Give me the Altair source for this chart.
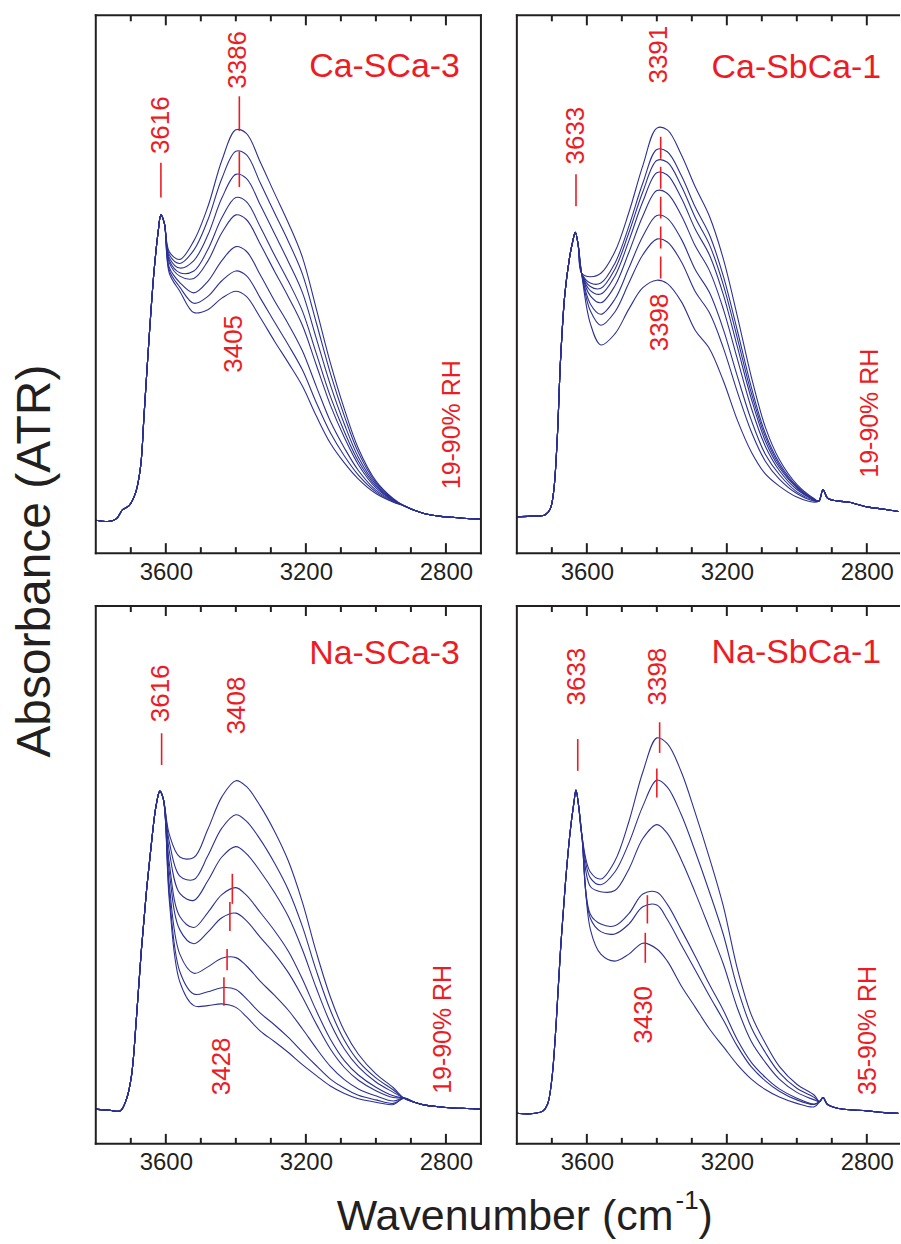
import altair as alt
import pandas as pd

FONT = "Liberation Sans"
BLUE = "#2b3192"
RED = "#ed1c24"
INK = "#231f20"

W_L, W_R, H = 386, 383, 539
DOM_L = [2700, 3800]
DOM_R = [2708, 3800]
Y_DOM = [0.07, 1.0]

# axis ticks (every 100 cm-1, long ones at the labelled values)
TICK_WN = [3700, 3600, 3500, 3400, 3300, 3200, 3100, 3000, 2900, 2800]
TICK_MAJOR = [0, 1, 0, 0, 0, 1, 0, 0, 0, 1]
TICK_LABELS = [3600, 3200, 2800]

# wavenumbers of the part where the spectra differ
MID_WN = [3590, 3560, 3520, 3480, 3440, 3400, 3370, 3330, 3290, 3250,
          3210, 3170, 3130, 3090, 3050, 3000, 2950]

# ---------------- Ca-SCa-3 ----------------
A_HEAD_WN = [3800, 3760, 3740, 3724, 3705, 3686, 3672, 3662, 3648, 3634, 3622, 3614, 3604]
A_HEAD_AB = [0.127, 0.125, 0.130, 0.145, 0.152, 0.175, 0.220, 0.310, 0.440, 0.555, 0.625, 0.655, 0.640]
A_C1 = [0.591, 0.578, 0.610, 0.669, 0.749, 0.802, 0.796, 0.746, 0.693, 0.641, 0.582, 0.492, 0.399, 0.319, 0.251, 0.195, 0.164]
A_C2 = [0.586, 0.571, 0.594, 0.646, 0.718, 0.765, 0.759, 0.710, 0.659, 0.609, 0.553, 0.468, 0.381, 0.307, 0.244, 0.192, 0.163]
A_C3 = [0.581, 0.563, 0.576, 0.620, 0.684, 0.725, 0.718, 0.672, 0.623, 0.574, 0.521, 0.441, 0.361, 0.293, 0.236, 0.189, 0.162]
A_C4 = [0.576, 0.555, 0.558, 0.595, 0.650, 0.685, 0.678, 0.634, 0.586, 0.540, 0.489, 0.415, 0.341, 0.280, 0.229, 0.186, 0.161]
A_C5 = [0.572, 0.549, 0.545, 0.575, 0.624, 0.655, 0.647, 0.604, 0.558, 0.513, 0.464, 0.395, 0.326, 0.270, 0.223, 0.183, 0.161]
A_C6 = [0.564, 0.538, 0.520, 0.540, 0.576, 0.600, 0.592, 0.551, 0.507, 0.466, 0.420, 0.358, 0.298, 0.252, 0.213, 0.179, 0.160]
A_C7 = [0.559, 0.530, 0.502, 0.514, 0.541, 0.558, 0.550, 0.511, 0.470, 0.430, 0.387, 0.330, 0.278, 0.238, 0.205, 0.176, 0.159]
A_C8 = [0.554, 0.523, 0.486, 0.491, 0.511, 0.523, 0.514, 0.477, 0.437, 0.399, 0.359, 0.307, 0.260, 0.226, 0.198, 0.173, 0.158]
A_TAIL_WN = [2920, 2890, 2860, 2820, 2780, 2740, 2700]
A_TAIL_AB = [0.152, 0.144, 0.138, 0.134, 0.132, 0.130, 0.129]

# ---------------- Ca-SbCa-1 ----------------
B_HEAD_WN = [3800, 3760, 3720, 3705, 3695, 3685, 3675, 3663, 3650, 3640, 3633, 3625, 3615]
B_HEAD_AB = [0.133, 0.134, 0.136, 0.146, 0.176, 0.263, 0.406, 0.517, 0.579, 0.610, 0.625, 0.604, 0.554]
B_C1 = [0.548, 0.554, 0.591, 0.659, 0.740, 0.805, 0.802, 0.759, 0.703, 0.653, 0.579, 0.480, 0.375, 0.288, 0.232, 0.189, 0.164]
B_C2 = [0.537, 0.537, 0.571, 0.635, 0.710, 0.768, 0.764, 0.723, 0.668, 0.621, 0.549, 0.455, 0.357, 0.277, 0.226, 0.186, 0.163]
B_C3 = [0.531, 0.528, 0.561, 0.624, 0.695, 0.749, 0.746, 0.705, 0.650, 0.604, 0.534, 0.442, 0.347, 0.271, 0.222, 0.184, 0.163]
B_C4 = [0.524, 0.518, 0.549, 0.610, 0.678, 0.728, 0.724, 0.684, 0.630, 0.586, 0.517, 0.427, 0.337, 0.264, 0.218, 0.183, 0.162]
B_C5 = [0.515, 0.503, 0.532, 0.590, 0.653, 0.697, 0.692, 0.654, 0.601, 0.559, 0.492, 0.406, 0.321, 0.255, 0.213, 0.180, 0.162]
B_C6 = [0.501, 0.483, 0.509, 0.563, 0.618, 0.654, 0.649, 0.613, 0.560, 0.521, 0.457, 0.376, 0.300, 0.241, 0.206, 0.176, 0.161]
B_C7 = [0.489, 0.464, 0.487, 0.537, 0.586, 0.613, 0.608, 0.574, 0.522, 0.486, 0.425, 0.349, 0.280, 0.229, 0.198, 0.173, 0.160]
B_C8 = [0.467, 0.430, 0.449, 0.492, 0.529, 0.542, 0.536, 0.505, 0.455, 0.424, 0.368, 0.300, 0.245, 0.207, 0.186, 0.167, 0.158]
B_TAIL_WN = [2937, 2925, 2912, 2880, 2850, 2800, 2750, 2710]
B_TAIL_AB = [0.160, 0.180, 0.165, 0.160, 0.158, 0.150, 0.146, 0.142]

# ---------------- Na-SCa-3 ----------------
C_HEAD_WN = [3800, 3760, 3730, 3712, 3698, 3684, 3670, 3655, 3640, 3628, 3617, 3607]
C_HEAD_AB = [0.130, 0.128, 0.127, 0.148, 0.188, 0.287, 0.404, 0.509, 0.596, 0.654, 0.680, 0.666]
C_C1 = [0.605, 0.566, 0.565, 0.614, 0.670, 0.698, 0.688, 0.654, 0.611, 0.559, 0.488, 0.401, 0.324, 0.265, 0.225, 0.191, 0.167]
C_C2 = [0.592, 0.533, 0.527, 0.568, 0.616, 0.639, 0.628, 0.596, 0.556, 0.509, 0.446, 0.369, 0.301, 0.249, 0.213, 0.184, 0.163]
C_C3 = [0.576, 0.503, 0.491, 0.525, 0.566, 0.584, 0.572, 0.541, 0.505, 0.463, 0.406, 0.339, 0.279, 0.234, 0.203, 0.177, 0.159]
C_C4 = [0.555, 0.463, 0.444, 0.470, 0.501, 0.513, 0.500, 0.470, 0.439, 0.403, 0.355, 0.300, 0.251, 0.214, 0.189, 0.168, 0.153]
C_C5 = [0.540, 0.440, 0.416, 0.436, 0.461, 0.469, 0.456, 0.427, 0.399, 0.366, 0.324, 0.277, 0.234, 0.202, 0.180, 0.162, 0.150]
C_C6 = [0.518, 0.398, 0.365, 0.376, 0.391, 0.392, 0.378, 0.351, 0.327, 0.301, 0.269, 0.235, 0.204, 0.181, 0.165, 0.153, 0.144]
C_C7 = [0.502, 0.368, 0.329, 0.333, 0.340, 0.337, 0.321, 0.296, 0.276, 0.254, 0.229, 0.205, 0.182, 0.166, 0.154, 0.146, 0.140]
C_C8 = [0.491, 0.350, 0.309, 0.309, 0.312, 0.306, 0.290, 0.265, 0.247, 0.228, 0.207, 0.188, 0.170, 0.157, 0.148, 0.142, 0.138]
C_TAIL_WN = [2920, 2890, 2860, 2820, 2780, 2740, 2700]
C_TAIL_AB = [0.149, 0.142, 0.137, 0.134, 0.132, 0.131, 0.130]

# ---------------- Na-SbCa-1 ----------------
D_HEAD_WN = [3800, 3760, 3725, 3712, 3700, 3688, 3676, 3662, 3648, 3637, 3631, 3624, 3614]
D_HEAD_AB = [0.123, 0.122, 0.127, 0.139, 0.182, 0.275, 0.398, 0.515, 0.608, 0.660, 0.682, 0.657, 0.602]
D_C1 = [0.540, 0.528, 0.559, 0.627, 0.713, 0.772, 0.762, 0.713, 0.642, 0.565, 0.481, 0.373, 0.293, 0.244, 0.204, 0.173, 0.154]
D_C2 = [0.530, 0.518, 0.540, 0.590, 0.654, 0.699, 0.687, 0.639, 0.575, 0.506, 0.432, 0.340, 0.271, 0.228, 0.193, 0.166, 0.150]
D_C3 = [0.515, 0.506, 0.508, 0.545, 0.598, 0.622, 0.607, 0.561, 0.504, 0.443, 0.381, 0.305, 0.247, 0.211, 0.182, 0.159, 0.146]
D_C4 = [0.467, 0.450, 0.447, 0.468, 0.502, 0.505, 0.484, 0.440, 0.394, 0.346, 0.301, 0.250, 0.211, 0.185, 0.165, 0.149, 0.139]
D_C5 = [0.460, 0.437, 0.433, 0.450, 0.480, 0.483, 0.458, 0.414, 0.370, 0.326, 0.284, 0.239, 0.203, 0.179, 0.161, 0.146, 0.138]
D_C6 = [0.441, 0.398, 0.386, 0.398, 0.417, 0.407, 0.386, 0.343, 0.306, 0.269, 0.238, 0.207, 0.182, 0.164, 0.151, 0.140, 0.134]
D_TAIL_WN = [2935, 2925, 2912, 2880, 2850, 2800, 2750, 2710]
D_TAIL_AB = [0.143, 0.150, 0.138, 0.131, 0.129, 0.127, 0.124, 0.123]

# ---------------- red annotations ----------------
A_NUM = (["3616", "3386", "3405"], [3615, 3394, 3406], [0.810, 0.923, 0.432])
B_NUM = (["3633", "3391", "3398"], [3630, 3393, 3392], [0.792, 0.932, 0.469])
C_NUM = (["3616", "3408", "3428"], [3615, 3396, 3439], [0.849, 0.828, 0.204])
D_NUM = (["3633", "3398", "3430"], [3628, 3397, 3436], [0.878, 0.878, 0.293])
A_RH = ("19-90% RH", 2783, 0.292)
B_RH = ("19-90% RH", 2792, 0.312)
C_RH = ("19-90% RH", 2807, 0.268)
D_RH = ("35-90% RH", 2797, 0.266)
A_NAME = ("Ca-SCa-3", 2760, 0.894)
B_NAME = ("Ca-SbCa-1", 2759, 0.892)
C_NAME = ("Na-SCa-3", 2760, 0.899)
D_NAME = ("Na-SbCa-1", 2759, 0.901)
# peak marker segments: wavenumber, top, bottom
A_SEG = ([3614, 3390, 3390], [0.745, 0.860, 0.765], [0.685, 0.800, 0.703])
B_SEG = ([3631], [0.725], [0.670])
B_DASH = ([3389], [0.790], [0.540])
C_SEG = ([3612, 3410, 3417, 3425, 3434], [0.780, 0.537, 0.488, 0.407, 0.358], [0.725, 0.485, 0.438, 0.370, 0.309])
D_SEG = ([3626, 3392, 3400, 3427, 3433], [0.770, 0.799, 0.719, 0.500, 0.435], [0.715, 0.746, 0.669, 0.451, 0.383])


def panel(head_wn, head_ab, curves, tail_wn, tail_ab, num, rh, name, seg,
          width, dom, right_border, dash=None, extra=()):
    rows = []
    for k, ys in enumerate(curves):
        seq = list(zip(head_wn, head_ab)) + list(zip(MID_WN, ys)) + list(zip(tail_wn, tail_ab))
        for i, (w, a) in enumerate(seq):
            rows.append({"curve": k, "i": i, "wn": w, "ab": a})
    df = pd.DataFrame(rows)
    xs = alt.Scale(domain=dom, reverse=True, nice=False, zero=False)
    ysc = alt.Scale(domain=Y_DOM, nice=False, zero=False)
    ax = alt.Axis(values=TICK_LABELS, ticks=False, tickSize=0, domain=False, grid=False,
                  labelFont=FONT, labelFontSize=24, labelColor=INK, labelPadding=7,
                  title=None, format="d")

    def X(field):
        return alt.X(field, scale=xs, axis=ax)

    def Y(field):
        return alt.Y(field, scale=ysc, axis=None)

    lines = alt.Chart(df).mark_line(
        color=BLUE, strokeWidth=1.1, interpolate="catmull-rom", clip=True
    ).encode(x=X("wn:Q"), y=Y("ab:Q"), detail="curve:N", order="i:Q")

    tdf = pd.DataFrame({"t": TICK_WN, "major": TICK_MAJOR})
    tb = alt.Chart(tdf).encode(x=X("t:Q"))
    tick_layers = [
        tb.transform_filter("datum.major == 1").mark_rule(color=INK, strokeWidth=2).encode(y=alt.value(0), y2=alt.value(10)),
        tb.transform_filter("datum.major == 0").mark_rule(color=INK, strokeWidth=2).encode(y=alt.value(0), y2=alt.value(6)),
        tb.transform_filter("datum.major == 1").mark_rule(color=INK, strokeWidth=2).encode(y=alt.value(H), y2=alt.value(H - 10)),
        tb.transform_filter("datum.major == 0").mark_rule(color=INK, strokeWidth=2).encode(y=alt.value(H), y2=alt.value(H - 6)),
    ]

    one = alt.Chart(pd.DataFrame({"k": [0]}))
    frame = [
        one.mark_rule(color=INK, strokeWidth=2, strokeCap="square").encode(x=alt.value(0), y=alt.value(0), y2=alt.value(H)),
        one.mark_rule(color=INK, strokeWidth=2, strokeCap="square").encode(x=alt.value(0), x2=alt.value(width), y=alt.value(0)),
        one.mark_rule(color=INK, strokeWidth=2, strokeCap="square").encode(x=alt.value(0), x2=alt.value(width), y=alt.value(H)),
    ]
    if right_border:
        frame.append(one.mark_rule(color=INK, strokeWidth=2, strokeCap="square").encode(
            x=alt.value(width), y=alt.value(0), y2=alt.value(H)))

    sdf = pd.DataFrame({"wn": seg[0], "y1": seg[1], "y2": seg[2]})
    ann = [alt.Chart(sdf).mark_rule(color=RED, strokeWidth=1.6).encode(
        x=X("wn:Q"), y=Y("y1:Q"), y2="y2:Q")]
    if dash is not None:
        ddf = pd.DataFrame({"wn": dash[0], "y1": dash[1], "y2": dash[2]})
        ann.append(alt.Chart(ddf).mark_rule(color=RED, strokeWidth=1.6, strokeDash=[22, 8]).encode(
            x=X("wn:Q"), y=Y("y1:Q"), y2="y2:Q"))

    ndf = pd.DataFrame({"label": num[0], "wn": num[1], "ab": num[2]})
    ann.append(alt.Chart(ndf).mark_text(
        angle=270, font=FONT, fontSize=26, color=RED, align="center", baseline="middle"
    ).encode(x=X("wn:Q"), y=Y("ab:Q"), text="label:N"))

    rdf = pd.DataFrame({"label": [rh[0]], "wn": [rh[1]], "ab": [rh[2]]})
    ann.append(alt.Chart(rdf).mark_text(
        angle=270, font=FONT, fontSize=25, color=RED, align="center", baseline="middle"
    ).encode(x=X("wn:Q"), y=Y("ab:Q"), text="label:N"))

    mdf = pd.DataFrame({"label": [name[0]], "wn": [name[1]], "ab": [name[2]]})
    ann.append(alt.Chart(mdf).mark_text(
        font=FONT, fontSize=34, color=RED, align="right", baseline="alphabetic"
    ).encode(x=X("wn:Q"), y=Y("ab:Q"), text="label:N"))

    return alt.layer(lines, *tick_layers, *frame, *ann, *extra).properties(width=width, height=H)


one_row = pd.DataFrame({"k": [0]})
y_title = alt.Chart(one_row).mark_text(
    text="Absorbance (ATR)", angle=270, font=FONT, fontSize=48, color=INK,
    align="center", baseline="middle"
).encode(x=alt.value(-60), y=alt.value(547))

x_title = [
    alt.Chart(one_row).mark_text(text="Wavenumber (cm", font=FONT, fontSize=43, color=INK,
                                 align="right", baseline="alphabetic"
                                 ).encode(x=alt.value(579), y=alt.value(625)),
    alt.Chart(one_row).mark_text(text="-1", font=FONT, fontSize=26, color=INK,
                                 align="left", baseline="alphabetic"
                                 ).encode(x=alt.value(581), y=alt.value(604)),
    alt.Chart(one_row).mark_text(text=")", font=FONT, fontSize=43, color=INK,
                                 align="left", baseline="alphabetic"
                                 ).encode(x=alt.value(604), y=alt.value(625)),
]

pA = panel(A_HEAD_WN, A_HEAD_AB, [A_C1, A_C2, A_C3, A_C4, A_C5, A_C6, A_C7, A_C8],
           A_TAIL_WN, A_TAIL_AB, A_NUM, A_RH, A_NAME, A_SEG, W_L, DOM_L, True,
           extra=(y_title,))
pB = panel(B_HEAD_WN, B_HEAD_AB, [B_C1, B_C2, B_C3, B_C4, B_C5, B_C6, B_C7, B_C8],
           B_TAIL_WN, B_TAIL_AB, B_NUM, B_RH, B_NAME, B_SEG, W_R, DOM_R, False, dash=B_DASH)
pC = panel(C_HEAD_WN, C_HEAD_AB, [C_C1, C_C2, C_C3, C_C4, C_C5, C_C6, C_C7, C_C8],
           C_TAIL_WN, C_TAIL_AB, C_NUM, C_RH, C_NAME, C_SEG, W_L, DOM_L, True,
           extra=tuple(x_title))
pD = panel(D_HEAD_WN, D_HEAD_AB, [D_C1, D_C2, D_C3, D_C4, D_C5, D_C6],
           D_TAIL_WN, D_TAIL_AB, D_NUM, D_RH, D_NAME, D_SEG, W_R, DOM_R, False)

chart = alt.concat(
    pA, pB, pC, pD, columns=2, spacing={"row": 53, "column": 36}, bounds="flush"
).properties(
    padding={"left": 12, "top": 12, "right": 0, "bottom": 0},
    background="white",
).configure_view(stroke=None)

chart.save("out.html", embed_options={"renderer": "svg", "actions": False})
